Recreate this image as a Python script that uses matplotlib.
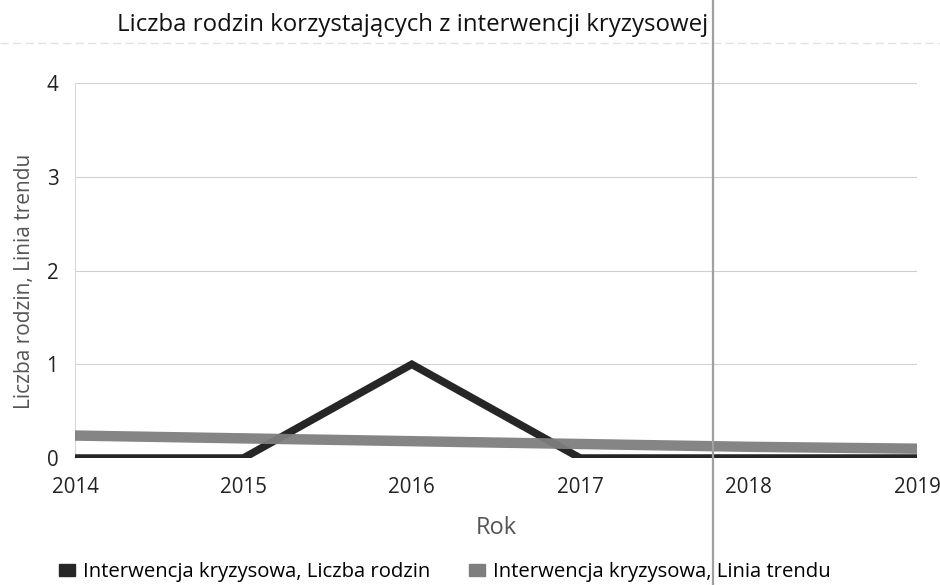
""" Liczba rodzin korzystajacych z interwencji kryzysowej
"""

import matplotlib
matplotlib.use('Agg')
import matplotlib.pyplot as plt
from matplotlib.lines import Line2D
from matplotlib.patches import Patch

# Data
years = [2014, 2015, 2016, 2017, 2018, 2019]
families = [0, 0, 1, 0, 0, 0]
trend = [0.24, 0.21, 0.18, 0.15, 0.12, 0.10]
y_ticks = [0, 1, 2, 3, 4]

labels = ['Interwencja kryzysowa, Liczba rodzin',
          'Interwencja kryzysowa, Linia trendu']


def main():
    plt.rcParams['font.family'] = ['Open Sans', 'DejaVu Sans']

    fig = plt.figure(figsize=(9.4, 5.85), dpi=100)
    ax = fig.add_axes([0.0798, 0.217, 0.8957, 0.641])

    dark = '#262626'
    grey = '#7e7e7e'

    ax.plot(years, families, color=dark, linewidth=5.5,
            solid_joinstyle='miter', zorder=3)
    ax.plot(years, trend, color=grey, linewidth=7.5, zorder=4, alpha=0.95)

    ax.set_xlim(2014, 2019)
    ax.set_ylim(0, 4)
    ax.set_xticks(years)
    ax.set_yticks(y_ticks)
    ax.tick_params(axis='both', length=0, labelsize=14.8, colors='#222222')
    ax.tick_params(axis='x', pad=14)
    ax.tick_params(axis='y', pad=12)
    ax.grid(axis='y', color='#d0d0d0', linewidth=0.8)
    ax.set_axisbelow(True)
    for side in ['top', 'right', 'bottom']:
        ax.spines[side].set_visible(False)
    ax.spines['left'].set_color('#d8d8d8')

    ax.set_xlabel('Rok', fontsize=17, color='#555555')
    ax.xaxis.set_label_coords(0.5, -0.155)
    ax.set_ylabel('Liczba rodzin, Linia trendu', fontsize=15,
                  color='#555555')
    ax.yaxis.set_label_coords(-0.047, 0.47)

    fig.text(0.1245, 0.958, 'Liczba rodzin korzystających z interwencji kryzysowej',
             fontsize=17.3, color='#111111', va='center', ha='left')

    handles = [Patch(facecolor=dark, edgecolor=dark),
               Patch(facecolor=grey, edgecolor=grey)]
    fig.legend(handles, labels, loc='center', bbox_to_anchor=(0.473, 0.022),
               ncol=2, frameon=False, fontsize=14.6, handlelength=0.8,
               handleheight=0.55, handletextpad=0.4, columnspacing=1.9)

    # scan artefacts: faint top rule and the vertical fold line
    fig.add_artist(Line2D([0, 1], [0.9265, 0.9265], color='#e2e2e2',
                          linewidth=1, linestyle=(0, (6, 3))))
    fig.add_artist(Line2D([0.7585, 0.7585], [0, 1], color='#a0a0a0',
                          linewidth=1.6))

    fig.savefig('out.png', dpi=100)


if __name__ == '__main__':
    main()
